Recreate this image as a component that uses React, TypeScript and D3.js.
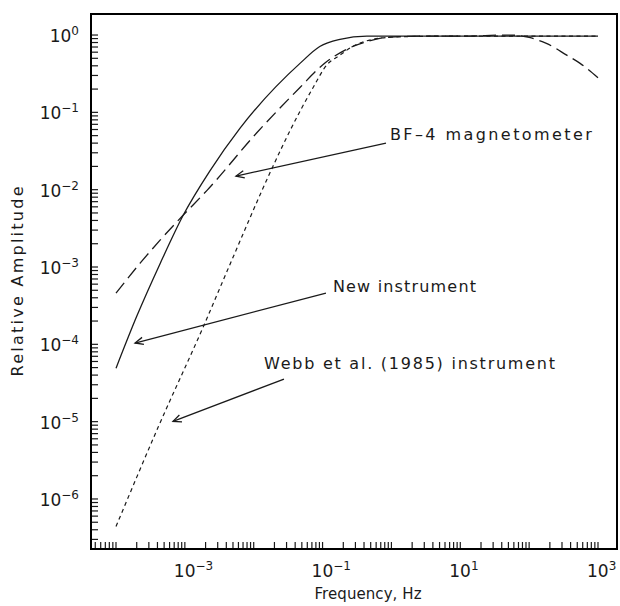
import { useEffect, useRef } from 'react'
import * as d3 from 'd3'

// New instrument (solid)
const FREQ_NEW = [1e-4, 2.0e-4, 4.4e-4, 9.5e-4, 2.3e-3, 6.3e-3, 0.047, 0.091, 0.179, 0.44, 1, 10, 100, 1000]
const AMP_NEW = [4.9e-5, 2.3e-4, 1.12e-3, 4.7e-3, 0.0174, 0.062, 0.43, 0.71, 0.88, 0.97, 0.97, 0.97, 0.97, 0.97]

// BF-4 magnetometer (long dash)
const FREQ_BF4 = [1e-4, 2.24e-4, 4.4e-4, 9.5e-4, 2.1e-3, 0.011, 0.047, 0.1, 0.22, 0.44, 0.85, 3.2, 10, 52, 100, 178, 351, 550, 1000]
const AMP_BF4 = [4.6e-4, 1.12e-3, 2.24e-3, 4.7e-3, 9.8e-3, 0.054, 0.21, 0.41, 0.65, 0.82, 0.93, 0.97, 0.97, 1.0, 0.93, 0.78, 0.55, 0.43, 0.28]

// Webb et al. (1985) instrument (short dash)
const FREQ_WEBB = [1e-4, 4.1e-4, 1.86e-3, 4.6e-3, 0.019, 0.034, 0.073, 0.115, 0.179, 0.28, 0.54, 1.3, 10, 100, 1000]
const AMP_WEBB = [4.4e-7, 8.5e-6, 1.7e-4, 1.12e-3, 0.02, 0.059, 0.21, 0.41, 0.55, 0.72, 0.88, 0.95, 0.97, 0.97, 0.97]

const X_LABEL_EXP = [-3, -1, 1, 3]
const Y_LABEL_EXP = [0, -1, -2, -3, -4, -5, -6]

// annotations, in data units: [freq, amplitude]
const NOTE_TEXT = ['BF\u20134  magnetometer', 'New  instrument', 'Webb  et  al.  (1985)  instrument']
const NOTE_AT = [[0.95, 0.0438], [0.1416, 4.73e-4], [0.0141, 4.78e-5]]
const ARROW_FROM = [[0.834, 0.04], [0.112, 4.6e-4], [0.0275, 3.55e-5]]
const ARROW_TO = [[5.53e-3, 0.015], [1.89e-4, 1.04e-4], [6.73e-4, 1.01e-5]]
const NOTE_WIDTH = [202, 143, 291]

export default function App() {
  const svgRef = useRef<SVGSVGElement>(null)

  useEffect(() => {
    if (!svgRef.current) return
    const svg = d3.select(svgRef.current)
    svg.selectAll('*').remove()

    const W = 620
    const H = 606
    const left = 91, right = 617, top = 14, bottom = 549
    const font = "'DejaVu Sans', sans-serif"
    const ink = '#1a1a1a'

    svg.attr('width', W).attr('height', H).attr('viewBox', `0 0 ${W} ${H}`)

    const x = d3.scaleLog().domain([10 ** -4.363, 10 ** 3.276]).range([left, right])
    const y = d3.scaleLog().domain([10 ** -6.647, 10 ** 0.272]).range([bottom, top])

    // minor + major ticks
    const ticksFor = (domain: number[]) => {
      const out: number[] = []
      const lo = Math.floor(Math.log10(domain[0]))
      const hi = Math.ceil(Math.log10(domain[1]))
      for (let e = lo; e <= hi; e++) {
        for (let k = 1; k <= 9; k++) {
          const v = k * 10 ** e
          if (v >= domain[0] && v <= domain[1]) out.push(v)
        }
      }
      return out
    }

    const tickLen = 7
    svg.append('g')
      .selectAll('line')
      .data(ticksFor(x.domain()))
      .join('line')
      .attr('x1', (d) => x(d)).attr('x2', (d) => x(d))
      .attr('y1', bottom).attr('y2', bottom - tickLen)
      .attr('stroke', ink).attr('stroke-width', 1.2)

    svg.append('g')
      .selectAll('line')
      .data(ticksFor(y.domain()))
      .join('line')
      .attr('y1', (d) => y(d)).attr('y2', (d) => y(d))
      .attr('x1', left).attr('x2', left + tickLen)
      .attr('stroke', ink).attr('stroke-width', 1.2)

    // frame
    svg.append('rect')
      .attr('x', left).attr('y', top)
      .attr('width', right - left).attr('height', bottom - top)
      .attr('fill', 'none').attr('stroke', '#000').attr('stroke-width', 2)

    // tick labels
    X_LABEL_EXP.forEach((e) => {
      const t = svg.append('text')
        .attr('x', x(10 ** e) - 11)
        .attr('y', 577)
        .attr('font-family', font).attr('font-size', 17).attr('fill', ink)
      t.append('tspan').text('10')
      t.append('tspan').attr('font-size', 12).attr('dy', -7)
        .text(e < 0 ? `\u2212${-e}` : `${e}`)
    })

    Y_LABEL_EXP.forEach((e) => {
      const t = svg.append('text')
        .attr('x', 79)
        .attr('y', y(10 ** e) + 7)
        .attr('text-anchor', 'end')
        .attr('font-family', font).attr('font-size', 17).attr('fill', ink)
      t.append('tspan').text('10')
      t.append('tspan').attr('font-size', 12).attr('dy', -7)
        .text(e < 0 ? `\u2212${-e}` : `${e}`)
    })

    // axis titles
    svg.append('text')
      .attr('x', 368).attr('y', 599)
      .attr('text-anchor', 'middle')
      .attr('font-family', font).attr('font-size', 15).attr('fill', ink)
      .attr('textLength', 107).attr('lengthAdjust', 'spacing')
      .text('Frequency,  Hz')

    svg.append('text')
      .attr('transform', `translate(23, ${(top + bottom) / 2}) rotate(-90)`)
      .attr('text-anchor', 'middle')
      .attr('font-family', font).attr('font-size', 16).attr('fill', ink)
      .attr('textLength', 190).attr('lengthAdjust', 'spacing')
      .text('Relative  Amplitude')

    // curves
    const line = d3.line<[number, number]>()
      .x((d) => x(d[0]))
      .y((d) => y(d[1]))
      .curve(d3.curveMonotoneX)

    const series = [
      { f: FREQ_NEW, a: AMP_NEW, dash: null, w: 1.3 },
      { f: FREQ_BF4, a: AMP_BF4, dash: '13,6', w: 1.3 },
      { f: FREQ_WEBB, a: AMP_WEBB, dash: '4,3.5', w: 1.2 },
    ]
    series.forEach((s) => {
      const pts = s.f.map((f, i) => [f, s.a[i]] as [number, number])
      svg.append('path')
        .attr('d', line(pts))
        .attr('fill', 'none')
        .attr('stroke', ink)
        .attr('stroke-width', s.w)
        .attr('stroke-dasharray', s.dash)
    })

    // annotations
    NOTE_TEXT.forEach((txt, i) => {
      svg.append('text')
        .attr('x', x(NOTE_AT[i][0]))
        .attr('y', y(NOTE_AT[i][1]))
        .attr('font-family', font).attr('font-size', 16).attr('fill', ink)
        .attr('textLength', NOTE_WIDTH[i]).attr('lengthAdjust', 'spacing')
        .text(txt)

      const x0 = x(ARROW_FROM[i][0]), y0 = y(ARROW_FROM[i][1])
      const x1 = x(ARROW_TO[i][0]), y1 = y(ARROW_TO[i][1])
      svg.append('line')
        .attr('x1', x0).attr('y1', y0).attr('x2', x1).attr('y2', y1)
        .attr('stroke', ink).attr('stroke-width', 1.3)

      const ang = Math.atan2(y0 - y1, x0 - x1)
      const headLen = 9
      const spread = 0.42
      const head = [ang - spread, ang + spread].map((a) => [x1 + headLen * Math.cos(a), y1 + headLen * Math.sin(a)])
      svg.append('path')
        .attr('d', `M${head[0][0]},${head[0][1]}L${x1},${y1}L${head[1][0]},${head[1][1]}`)
        .attr('fill', 'none')
        .attr('stroke', ink).attr('stroke-width', 1.3)
    })
  }, [])

  return (
    <svg
      ref={svgRef}
      style={{ position: 'absolute', left: 0, top: 0, background: '#fff', display: 'block' }}
    />
  )
}
